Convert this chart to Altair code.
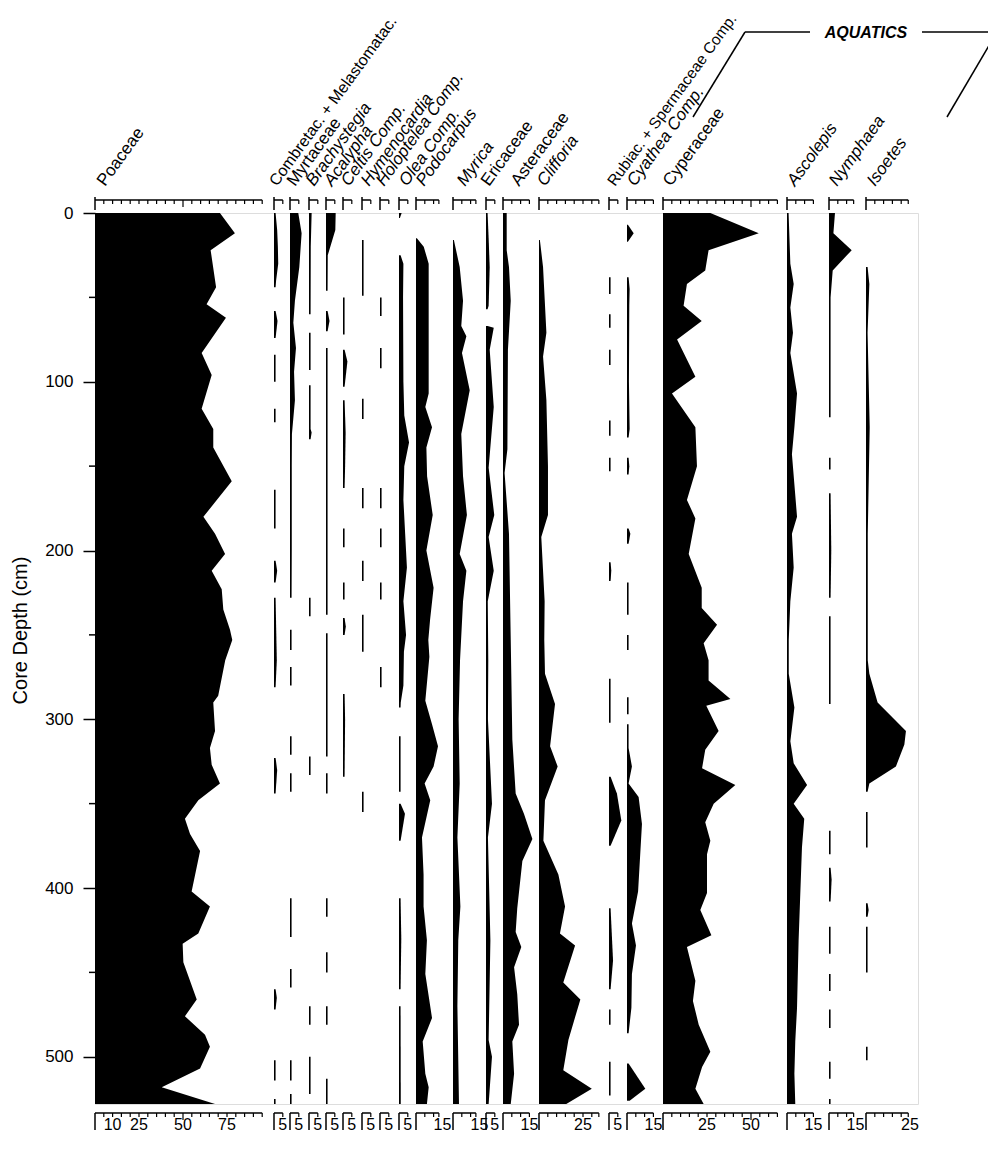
import altair as alt
import pandas as pd

# ---------------- layout ----------------
PX_PER_PCT = 1.76
PLOT_W = 823
PLOT_H = 891
DEPTH_MAX = 528
X_UNITS = PLOT_W / PX_PER_PCT

TAXA = ["Poaceae", "Combretac. + Melastomatac.", "Myrtaceae", "Brachystegia", "Acalypha",
        "Celtis Comp.", "Hymenocardia", "Holoptelea Comp.", "Olea Comp.", "Podocarpus",
        "Myrica", "Ericaceae", "Asteraceae", "Clifforia", "Rubiac. + Spermaceae Comp.",
        "Cyathea Comp.", "Cyperaceae", "Ascolepis", "Nymphaea", "Isoetes"]
ITALIC = [False, False, False, True, True, True, True, True, True, True,
          True, False, False, True, False, True, False, True, True, True]
LABEL_SIZE = [17, 16, 17, 17, 17, 17, 17, 17, 17, 17,
              17, 17, 17, 17, 15.5, 17, 17, 17, 17, 17]
COL_START_PX = [0, 179, 195, 214, 231, 248, 267, 285, 304, 321,
                358, 391, 408, 444, 514, 532, 568, 692, 734, 771]
LABEL_DX_PX = [10, 3, 5, 5, 6, 6, 7, 4, 8, 8, 12, 3, 16, 6, 6, 8, 8, 8, 8, 9]
SCALE_MAX = [95, 5, 5, 5, 5, 5, 5, 5, 5, 13, 13, 5, 15, 34, 5, 15, 65, 15, 14, 24]
BOTTOM_LABELS = [[10, 25, 50, 75], [5], [5], [5], [5], [5], [5], [5], [5], [15],
                 [15], [5], [15], [25], [5], [15], [25, 50], [15], [15], [25]]

# ---------------- data (depth cm, percent); None separates segments ----------------
POACEAE_D = [0, 12, 22, 44, 54, 62, 83, 96, 116, 128, 139, 159, 180, 190, 202, 212, 223, 235, 247, 253,
             265, 286, 290, 307, 317, 327, 338, 348, 359, 368, 378, 402, 411, 427, 433, 444, 466, 476, 487, 494,
             507, 518, 528]
POACEAE_V = [71, 79.5, 65.7, 68.8, 63.4, 74.4, 60.6, 66.3, 60.6, 67.2, 67.2, 77.7, 61.6, 68.2, 73.9, 66.3, 72, 72.9, 76.7, 78,
             74, 70, 67.2, 68.2, 65.3, 66.3, 71, 58.7, 51.1, 54, 59.7, 54.9, 65.3, 58.7, 49.8, 50.2, 57.8, 51.1, 62.5, 65.3,
             59.7, 37.9, 68.2]

COMBRETAC_D = [0, 10, 20, 30, 40, 44, None, 58, 64, 74, None, 84, 100, None, 116, 124, None, 164, 187, None,
               206, 212, 219, None, 228, 265, 281, None, 323, 330, 344, None, 460, 465, 472, None, 502, 514, None, 525, 528]
COMBRETAC_V = [0.9, 1.8, 2.2, 2.4, 1.2, 0.9, None, 0.9, 2.0, 0.9, None, 0.9, 0.9, None, 0.9, 0.9, None, 0.9, 0.9, None,
               0.9, 1.8, 0.9, None, 0.9, 1.6, 0.9, None, 0.9, 1.8, 0.9, None, 0.9, 1.6, 0.9, None, 0.9, 0.9, None, 0.9, 0.9]

MYRTACEAE_D = [0, 12, 32, 52, 65, 80, 94, 111, 131, 150, 200, 228, None, 247, 259, None, 269, 280, None, 310, 321,
               None, 332, 343, None, 406, 429, None, 448, 459, None, 502, 514, None, 522, 528]
MYRTACEAE_V = [4.7, 6.6, 5.3, 2.8, 1.9, 3.4, 2.3, 2.8, 1.1, 1.0, 1.0, 0.9, None, 0.9, 0.9, None, 0.9, 0.9, None, 0.9, 0.9,
               None, 0.9, 0.9, None, 0.9, 0.9, None, 0.9, 0.9, None, 0.9, 0.9, None, 0.9, 0.9]

BRACHY_D = [0, 20, 60, None, 71, 93, None, 102, 128, 130, 134, None, 228, 239, None, 322, 333, None, 470, 481, None, 500, 522]
BRACHY_V = [1.5, 1.0, 0.9, None, 0.9, 0.9, None, 0.9, 0.9, 1.5, 0.9, None, 0.9, 0.9, None, 0.9, 0.9, None, 0.9, 0.9, None, 0.9, 0.9]

ACALYPHA_D = [0, 10, 25, 46, None, 58, 64, 70, None, 80, 150, 238, None, 249, 322, None, 332, 344, None, 406, 417,
              None, 438, 450, None, 470, 481, None, 513, 528]
ACALYPHA_V = [5.5, 5.3, 1.0, 0.9, None, 0.9, 2.0, 0.9, None, 0.9, 0.9, 0.9, None, 0.9, 0.9, None, 0.9, 0.9, None, 0.9, 0.9,
              None, 0.9, 0.9, None, 0.9, 0.9, None, 0.9, 0.9]

CELTIS_D = [50, 72, None, 81, 88, 103, None, 111, 130, 150, 163, None, 187, 198, None, 219, 229, None, 240, 245, 250,
            None, 285, 300, 334]
CELTIS_V = [0.9, 0.9, None, 0.9, 2.5, 0.9, None, 0.9, 1.5, 1.2, 0.9, None, 0.9, 0.9, None, 0.9, 0.9, None, 0.9, 1.6, 0.9,
            None, 0.9, 1.2, 0.9]

HYMENO_D = [16, 49, None, 110, 122, None, 163, 175, None, 206, 218, None, 238, 260, None, 343, 355]
HYMENO_V = [0.9, 0.9, None, 0.9, 0.9, None, 0.9, 0.9, None, 0.9, 0.9, None, 0.9, 0.9, None, 0.9, 0.9]

HOLOPT_D = [50, 61, None, 80, 92, None, 163, 175, None, 187, 198, None, 219, 229, None, 269, 281]
HOLOPT_V = [0.9, 0.9, None, 0.9, 0.9, None, 0.9, 0.9, None, 0.9, 0.9, None, 0.9, 0.9, None, 0.9, 0.9]

OLEA_D = [0, 3, None, 25, 30, 50, 100, 120, 136, 150, 170, 190, 210, 230, 250, 260, 280, 290, 293, None,
          310, 343, None, 350, 356, 372, None, 406, 430, 460, None, 470, 528]
OLEA_V = [1.5, 0.5, None, 0.9, 2.5, 2.3, 2.5, 3.0, 5.7, 3.0, 2.5, 3.5, 4.5, 2.5, 4.0, 2.8, 2.5, 1.0, 0.9, None,
          0.9, 0.9, None, 0.9, 3.4, 0.9, None, 0.9, 1.3, 0.9, None, 0.9, 1.0]

PODO_D = [15, 20, 30, 71, 107, 115, 127, 139, 156, 179, 200, 222, 241, 253, 263, 289, 303, 316, 328, 338,
          348, 370, 392, 411, 431, 451, 477, 491, 510, 518, 528]
PODO_V = [0.5, 4.4, 7.2, 7.2, 7.2, 5.3, 9.1, 5.9, 6.3, 9.5, 5.9, 10.0, 8.0, 7.0, 7.6, 5.3, 9.1, 12.5, 10.0, 4.9,
          8.1, 3.4, 4.3, 4.3, 6.2, 5.3, 9.1, 3.8, 5.3, 7.2, 6.2]

MYRICA_D = [16, 32, 52, 67, 73, 83, 105, 131, 156, 179, 202, 212, 230, 265, 300, 338, 370, 411, 431, 470, 528]
MYRICA_V = [0.5, 3.8, 5.7, 4.7, 7.6, 5.1, 9.5, 4.7, 5.7, 7.9, 3.8, 7.6, 5.7, 4.0, 3.2, 3.8, 2.5, 4.2, 3.0, 2.5, 3.4]

ERIC_D = [0, 15, 32, 55, 57, None, 67, 68, 81, 115, 151, 179, 192, 212, 230, 265, 300, 350, 370, 431, 490, 500, 528]
ERIC_V = [0.9, 1.5, 2.1, 1.5, 0.9, None, 0.9, 4.4, 2.1, 4.4, 1.5, 4.7, 1.5, 4.4, 1.0, 1.3, 1.1, 3.4, 1.1, 2.5, 1.5, 3.4, 1.5]

ASTER_D = [0, 22, 32, 52, 81, 140, 154, 190, 253, 312, 344, 356, 371, 384, 412, 426, 435, 447, 463, 481, 491, 510, 528]
ASTER_V = [2.1, 2.1, 3.4, 4.4, 2.8, 2.5, 0.9, 3.4, 4.4, 5.3, 7.2, 11.9, 16.7, 11.0, 8.1, 7.2, 10.4, 6.3, 8.1, 9.1, 5.3, 6.3, 4.4]

CLIFF_D = [16, 32, 71, 85, 111, 150, 179, 192, 230, 253, 273, 291, 316, 328, 348, 372, 392, 411, 427, 434,
           456, 466, 490, 508, 519, 528]
CLIFF_V = [0.5, 2.3, 4.2, 2.3, 4.2, 5.1, 5.1, 1.3, 3.2, 3.0, 3.4, 9.1, 6.3, 10.6, 3.4, 2.5, 11.0, 14.8, 11.9, 20.5,
           13.8, 23.5, 16.7, 13.8, 30.0, 15.5]

RUBIAC_D = [38, 48, None, 60, 68, None, 81, 90, None, 123, 132, None, 145, 153, None, 207, 212, 218, None, 276, 302,
            None, 334, 344, 360, 375, None, 412, 443, 460, None, 472, 481, None, 503, 523]
RUBIAC_V = [0.9, 0.9, None, 0.9, 0.9, None, 0.9, 0.9, None, 0.9, 0.9, None, 0.9, 0.9, None, 0.9, 1.3, 0.9, None, 0.9, 0.9,
            None, 0.9, 4.5, 7.0, 0.9, None, 0.9, 2.3, 0.9, None, 0.9, 0.9, None, 0.9, 0.9]

CYATHEA_D = [7, 12, 17, None, 38, 45, 55, 100, 128, 133, None, 145, 150, 155, None, 187, 190, 196, None, 219,
             238, None, 250, 259, None, 287, 297, None, 303, 317, 328, 338, 346, 362, 402, 421, 434, 451, 471, 486,
             None, 504, 519, 526]
CYATHEA_V = [0.5, 3.8, 0.5, None, 0.9, 1.5, 1.3, 1.1, 1.5, 0.9, None, 0.9, 1.3, 0.9, None, 0.9, 1.9, 0.9, None, 0.9,
             0.9, None, 0.9, 0.9, None, 0.9, 0.9, None, 0.9, 0.9, 2.8, 0.9, 6.6, 8.5, 6.3, 2.8, 5.1, 2.8, 2.5, 0.9,
             None, 0.9, 10.4, 1.5]

CYPER_D = [0, 12, 22, 34, 42, 55, 64, 75, 97, 107, 127, 150, 170, 181, 202, 222, 234, 244, 255, 265,
           277, 288, 292, 307, 318, 329, 339, 350, 361, 372, 380, 403, 413, 428, 435, 455, 467, 481, 497, 506,
           519, 528]
CYPER_V = [26.9, 54.4, 25.9, 24.0, 13.6, 11.7, 22.0, 8.0, 18.4, 5.1, 18.4, 19.3, 13.6, 18.4, 14.6, 22.0, 22.0, 30.7, 23.1, 25.9,
           25.9, 38.3, 24.6, 31.6, 24.0, 22.2, 41.1, 28.8, 24.0, 26.9, 25.0, 25.0, 21.2, 27.5, 13.6, 18.4, 17.0, 20.3, 26.9, 22.2,
           18.4, 23.1]

ASCOL_D = [0, 30, 42, 56, 71, 83, 107, 127, 143, 180, 190, 210, 230, 253, 273, 293, 313, 326, 339, 350,
           359, 376, 431, 471, 491, 510, 528]
ASCOL_V = [0.9, 1.9, 3.8, 1.9, 3.4, 1.9, 5.7, 4.2, 2.8, 5.7, 2.8, 3.8, 1.9, 1.0, 1.0, 4.2, 1.9, 3.8, 11.4, 3.8,
           9.8, 8.5, 6.6, 5.7, 4.7, 4.2, 4.7]

NYMPH_D = [0, 12, 22, 34, 50, 121, None, 145, 152, None, 166, 200, 228, None, 239, 291, None, 366, 380, None,
           388, 395, 408, None, 423, 439, None, 451, 461, None, 472, 483, None, 503, 513, None, 525, 528]
NYMPH_V = [3.4, 2.5, 12.9, 2.1, 0.9, 0.9, None, 0.9, 0.9, None, 0.9, 1.3, 0.9, None, 0.9, 0.9, None, 0.9, 0.9, None,
           0.9, 1.5, 0.9, None, 0.9, 0.9, None, 0.9, 0.9, None, 0.9, 0.9, None, 0.9, 0.9, None, 0.9, 0.9]

ISOETES_D = [32, 42, 71, 127, 190, 265, 273, 290, 307, 315, 328, 338, 343, None, 355, 376, None, 409, 413, 417,
             None, 423, 450, None, 494, 502]
ISOETES_V = [0.9, 1.9, 0.9, 2.1, 1.0, 1.0, 1.9, 6.6, 22.7, 21.8, 17.0, 1.9, 0.9, None, 0.9, 0.9, None, 0.9, 1.5, 0.9,
             None, 0.9, 0.9, None, 0.9, 0.9]

SERIES = [(POACEAE_D, POACEAE_V), (COMBRETAC_D, COMBRETAC_V), (MYRTACEAE_D, MYRTACEAE_V), (BRACHY_D, BRACHY_V),
          (ACALYPHA_D, ACALYPHA_V), (CELTIS_D, CELTIS_V), (HYMENO_D, HYMENO_V), (HOLOPT_D, HOLOPT_V),
          (OLEA_D, OLEA_V), (PODO_D, PODO_V), (MYRICA_D, MYRICA_V), (ERIC_D, ERIC_V), (ASTER_D, ASTER_V),
          (CLIFF_D, CLIFF_V), (RUBIAC_D, RUBIAC_V), (CYATHEA_D, CYATHEA_V), (CYPER_D, CYPER_V),
          (ASCOL_D, ASCOL_V), (NYMPH_D, NYMPH_V), (ISOETES_D, ISOETES_V)]

Y_MAJOR = [0, 100, 200, 300, 400, 500]
Y_MINOR = [50, 150, 250, 350, 450]

# ---------------- tables ----------------
offsets = [p / PX_PER_PCT for p in COL_START_PX]

rows = []
for ti, (name, (ds, vs)) in enumerate(zip(TAXA, SERIES)):
    assert len(ds) == len(vs), name
    seg = 0
    for d, v in zip(ds, vs):
        if d is None:
            seg += 1
            continue
        rows.append({"taxon": name, "seg": f"{ti}-{seg}", "depth": d, "pct": v, "off": offsets[ti]})
curves = pd.DataFrame(rows)

taxa_df = pd.DataFrame({
    "taxon": TAXA,
    "off": offsets,
    "smax": SCALE_MAX,
    "italic": ITALIC,
    "fs": LABEL_SIZE,
    "lx": [o + dx / PX_PER_PCT for o, dx in zip(offsets, LABEL_DX_PX)],
})

tick_rows, lab_rows = [], []
for ti, name in enumerate(TAXA):
    smax = SCALE_MAX[ti]
    v = 5
    while v < smax:
        tick_rows.append({"off": offsets[ti], "v": v, "major": int(v % 50 == 0)})
        v += 5
    tick_rows.append({"off": offsets[ti], "v": smax, "major": 0})
    for lv in BOTTOM_LABELS[ti]:
        lab_rows.append({"off": offsets[ti], "v": lv, "txt": str(lv)})
ticks_df = pd.DataFrame(tick_rows)
labs_df = pd.DataFrame(lab_rows)
minor_df = pd.DataFrame({"depth": Y_MINOR})

FONT = "Liberation Sans"
xscale = alt.Scale(domain=[0, X_UNITS], nice=False, zero=False)
yscale = alt.Scale(domain=[0, DEPTH_MAX], reverse=True, nice=False, zero=False)

area = alt.Chart(curves).mark_area(color="black", orient="horizontal", interpolate="linear").transform_calculate(
    xe="datum.off + datum.pct"
).encode(
    y=alt.Y("depth:Q", scale=yscale,
            axis=alt.Axis(values=Y_MAJOR, tickSize=12, tickWidth=1.5, tickColor="black",
                          labelPadding=10, labelFontSize=17, labelFont=FONT, labelColor="black",
                          domain=False, grid=False, title="Core Depth (cm)", titleFont=FONT,
                          titleFontSize=20, titleFontWeight="normal", titleColor="black",
                          titleAngle=270, titleX=-75, titleY=417, titleAlign="center",
                          titleBaseline="middle")),
    x=alt.X("xe:Q", scale=xscale, axis=None, stack=None),
    x2="off:Q",
    detail="seg:N",
)

yminor = alt.Chart(minor_df).mark_rule(color="black", strokeWidth=1.5).encode(
    y=alt.Y("depth:Q", scale=yscale), x=alt.value(-6), x2=alt.value(0)
)

base_tax = alt.Chart(taxa_df).transform_calculate(xend="datum.off + datum.smax")
top_bar = base_tax.mark_rule(color="black", strokeWidth=1.5).encode(
    x=alt.X("off:Q", scale=xscale), x2="xend:Q", y=alt.value(-13))
top_zero = base_tax.mark_rule(color="black", strokeWidth=1.5).encode(
    x=alt.X("off:Q", scale=xscale), y=alt.value(-16), y2=alt.value(-3))
bot_bar = base_tax.mark_rule(color="black", strokeWidth=1.5).encode(
    x=alt.X("off:Q", scale=xscale), x2="xend:Q", y=alt.value(PLOT_H + 9))
bot_zero = base_tax.mark_rule(color="black", strokeWidth=1.5).encode(
    x=alt.X("off:Q", scale=xscale), y=alt.value(PLOT_H + 9), y2=alt.value(PLOT_H + 26))

base_ticks = alt.Chart(ticks_df).transform_calculate(xt="datum.off + datum.v")
minor_t = base_ticks.transform_filter("datum.major == 0")
major_t = base_ticks.transform_filter("datum.major == 1")
top_ticks = minor_t.mark_rule(color="black", strokeWidth=1.2).encode(
    x=alt.X("xt:Q", scale=xscale), y=alt.value(-13), y2=alt.value(-9))
top_ticks_major = major_t.mark_rule(color="black", strokeWidth=1.2).encode(
    x=alt.X("xt:Q", scale=xscale), y=alt.value(-13), y2=alt.value(-6))
bot_ticks = minor_t.mark_rule(color="black", strokeWidth=1.2).encode(
    x=alt.X("xt:Q", scale=xscale), y=alt.value(PLOT_H + 9), y2=alt.value(PLOT_H + 13))
bot_ticks_major = major_t.mark_rule(color="black", strokeWidth=1.2).encode(
    x=alt.X("xt:Q", scale=xscale), y=alt.value(PLOT_H + 9), y2=alt.value(PLOT_H + 16))

bot_labels = alt.Chart(labs_df).transform_calculate(xl="datum.off + datum.v").mark_text(
    font=FONT, fontSize=16, color="black", baseline="middle", align="center"
).encode(x=alt.X("xl:Q", scale=xscale), y=alt.value(PLOT_H + 21), text="txt:N")

hdr_norm = alt.Chart(taxa_df[~taxa_df["italic"]]).mark_text(
    font=FONT, color="black", angle=306, align="left", baseline="alphabetic"
).encode(x=alt.X("lx:Q", scale=xscale), y=alt.value(-26), text="taxon:N",
         size=alt.Size("fs:Q", scale=None, legend=None))
hdr_ital = alt.Chart(taxa_df[taxa_df["italic"]]).mark_text(
    font=FONT, fontStyle="italic", color="black", angle=306, align="left", baseline="alphabetic"
).encode(x=alt.X("lx:Q", scale=xscale), y=alt.value(-26), text="taxon:N",
         size=alt.Size("fs:Q", scale=None, legend=None))

one = pd.DataFrame({"k": [0]})
br1 = alt.Chart(one).mark_rule(color="black", strokeWidth=1.5).encode(
    x=alt.value(598), y=alt.value(-96), x2=alt.value(650), y2=alt.value(-181))
br2 = alt.Chart(one).mark_rule(color="black", strokeWidth=1.5).encode(
    x=alt.value(650), y=alt.value(-181), x2=alt.value(715), y2=alt.value(-181))
br3 = alt.Chart(one).mark_rule(color="black", strokeWidth=1.5).encode(
    x=alt.value(827), y=alt.value(-181), x2=alt.value(902), y2=alt.value(-181))
br4 = alt.Chart(one).mark_rule(color="black", strokeWidth=1.5).encode(
    x=alt.value(902), y=alt.value(-181), x2=alt.value(852), y2=alt.value(-96))
aq = alt.Chart(one).mark_text(
    font=FONT, fontSize=16, fontStyle="italic", fontWeight="bold", color="black",
    align="center", baseline="middle"
).encode(x=alt.value(771), y=alt.value(-180), text=alt.value("AQUATICS"))

chart = alt.layer(
    area, yminor, top_bar, top_zero, top_ticks, top_ticks_major, bot_bar, bot_zero, bot_ticks,
    bot_ticks_major, bot_labels, hdr_norm, hdr_ital, br1, br2, br3, br4, aq
).properties(
    width=PLOT_W, height=PLOT_H,
    autosize=alt.AutoSizeParams(type="none"),
    padding={"left": 87, "top": 205, "right": 70, "bottom": 45},
).configure_view(stroke="black", strokeWidth=2).configure(font=FONT)

chart.save("out.html", embed_options={"renderer": "svg", "actions": False})
